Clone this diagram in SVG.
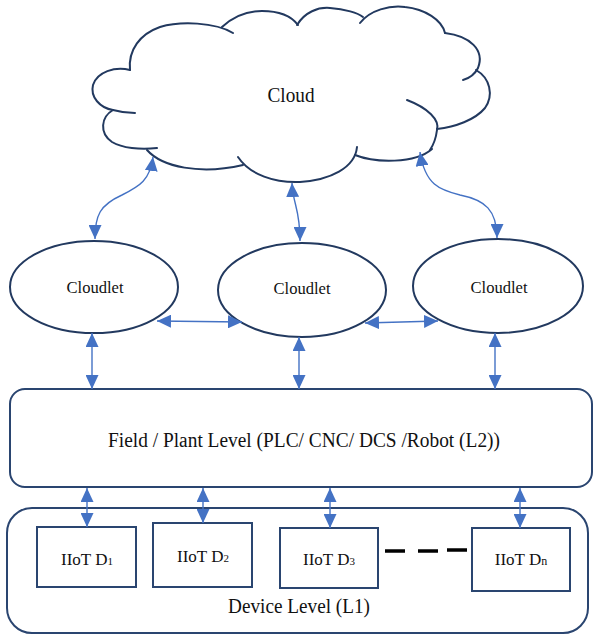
<svg xmlns="http://www.w3.org/2000/svg" width="595" height="635" viewBox="0 0 595 635">
  <style>
    .shape { fill: none; stroke: #22395f; stroke-width: 2; stroke-linecap: round; }
    .box { fill: #ffffff; stroke: #2a4570; stroke-width: 2; }
    .link { fill: none; stroke: #4472c4; stroke-width: 1.4; marker-start: url(#tip); marker-end: url(#tip); }
    .label { font-family: "Liberation Serif", "Times New Roman", serif; fill: #111111; text-anchor: middle; }
    .dash { stroke: #000000; stroke-width: 3.5; }
  </style>
  <defs>
    <marker id="tip" viewBox="0 0 14 13" markerUnits="userSpaceOnUse" markerWidth="14" markerHeight="13" refX="14" refY="6.5" orient="auto-start-reverse">
      <path d="M0,0 L14,6.5 L0,13 z" fill="#4472c4"/>
    </marker>
  </defs>

  <rect width="595" height="635" fill="#ffffff"/>

  <!-- Cloud outline: overlapping arcs, each lobe's end tucked inside -->
  <g id="cloud">
    <path class="shape" d="M130,70 C115,66 97,72 93,85 C90,97 100,108 113,110 C120,112 128,113 135,113"/>
    <path class="shape" d="M113,110 C101,117 99,133 112,142 C122,148 140,150 157,148"/>
    <path class="shape" d="M147,150 C162,167 200,175 243,165"/>
    <path class="shape" d="M238,157 C250,175 275,183 300,182 C330,180 355,168 357,147"/>
    <path class="shape" d="M355,155 C375,163 415,164 432,149"/>
    <path class="shape" d="M407,100 C428,108 440,120 437,130 C436,138 434,144 430,150"/>
    <path class="shape" d="M476,70 C490,78 494,95 485,108 C475,120 455,127 437,129"/>
    <path class="shape" d="M445,33 C470,36 485,50 478,68 C475,74 470,78 463,80"/>
    <path class="shape" d="M360,23 C370,10 390,5 405,7 C425,9 442,20 445,33"/>
    <path class="shape" d="M297,25 C305,12 318,7 330,8 C345,9 358,13 363,17"/>
    <path class="shape" d="M222,27 C235,15 250,11 262,11 C280,11 292,17 298,25"/>
    <path class="shape" d="M130,70 C128,50 140,34 160,27 C180,21 215,22 233,33"/>
    <text class="label" x="291" y="102" font-size="20" textLength="47" lengthAdjust="spacingAndGlyphs">Cloud</text>
  </g>

  <!-- Cloudlets -->
  <g id="cloudlet-1">
    <ellipse class="shape" cx="94" cy="287" rx="84" ry="46"/>
    <text class="label" x="95" y="293" font-size="17" textLength="57" lengthAdjust="spacingAndGlyphs">Cloudlet</text>
  </g>
  <g id="cloudlet-2">
    <ellipse class="shape" cx="302" cy="290" rx="84" ry="47"/>
    <text class="label" x="302" y="294" font-size="17" textLength="57" lengthAdjust="spacingAndGlyphs">Cloudlet</text>
  </g>
  <g id="cloudlet-3">
    <ellipse class="shape" cx="498" cy="286" rx="85" ry="47"/>
    <text class="label" x="499" y="293" font-size="17" textLength="57" lengthAdjust="spacingAndGlyphs">Cloudlet</text>
  </g>

  <!-- Field / plant level -->
  <g id="field-level">
    <rect class="box" x="10" y="389" width="582" height="98" rx="15" ry="15"/>
    <text class="label" x="304" y="447" font-size="20" textLength="392" lengthAdjust="spacingAndGlyphs">Field / Plant Level (PLC/ CNC/ DCS /Robot (L2))</text>
  </g>

  <!-- Device level -->
  <g id="device-level">
    <rect class="box" x="7" y="508" width="581" height="125" rx="25" ry="25"/>
    <text class="label" x="299" y="613" font-size="20" textLength="142" lengthAdjust="spacingAndGlyphs">Device Level (L1)</text>
  </g>

  <g id="iiot-d1">
    <rect class="box" x="37" y="527" width="99" height="60"/>
    <text class="label" x="87" y="565" font-size="17">IIoT D<tspan font-size="11">1</tspan></text>
  </g>
  <g id="iiot-d2">
    <rect class="box" x="153" y="523" width="99" height="64"/>
    <text class="label" x="203" y="562" font-size="17">IIoT D<tspan font-size="11">2</tspan></text>
  </g>
  <g id="iiot-d3">
    <rect class="box" x="280" y="528" width="98" height="60"/>
    <text class="label" x="329" y="565" font-size="17">IIoT D<tspan font-size="11">3</tspan></text>
  </g>
  <g id="iiot-dn">
    <rect class="box" x="472" y="528" width="98" height="63"/>
    <text class="label" x="521" y="565" font-size="17">IIoT D<tspan font-size="12">n</tspan></text>
  </g>

  <!-- Dashed gap between D3 and Dn -->
  <g id="ellipsis">
    <line class="dash" x1="385" y1="551" x2="405" y2="551"/>
    <line class="dash" x1="418" y1="551" x2="438" y2="551"/>
    <line class="dash" x1="447" y1="550" x2="467" y2="550"/>
  </g>

  <!-- Connectors (double-headed) -->
  <g id="connectors">
    <path class="link" d="M153,157 C150,180 140,186 122,195 C100,205 95,215 95,239"/>
    <path class="link" d="M292,183 C293,205 300,208 300,241"/>
    <path class="link" d="M420,152 C425,185 440,190 460,195 C485,200 497,210 497,238"/>
    <path class="link" d="M157,321 L242,322"/>
    <path class="link" d="M365,323 L438,321"/>
    <path class="link" d="M92,333 L92,389"/>
    <path class="link" d="M299,337 L299,389"/>
    <path class="link" d="M495,333 L495,389"/>
    <path class="link" d="M87,488 L87,527"/>
    <path class="link" d="M203,488 L203,523"/>
    <path class="link" d="M330,488 L330,528"/>
    <path class="link" d="M520,488 L520,528"/>
  </g>
</svg>
